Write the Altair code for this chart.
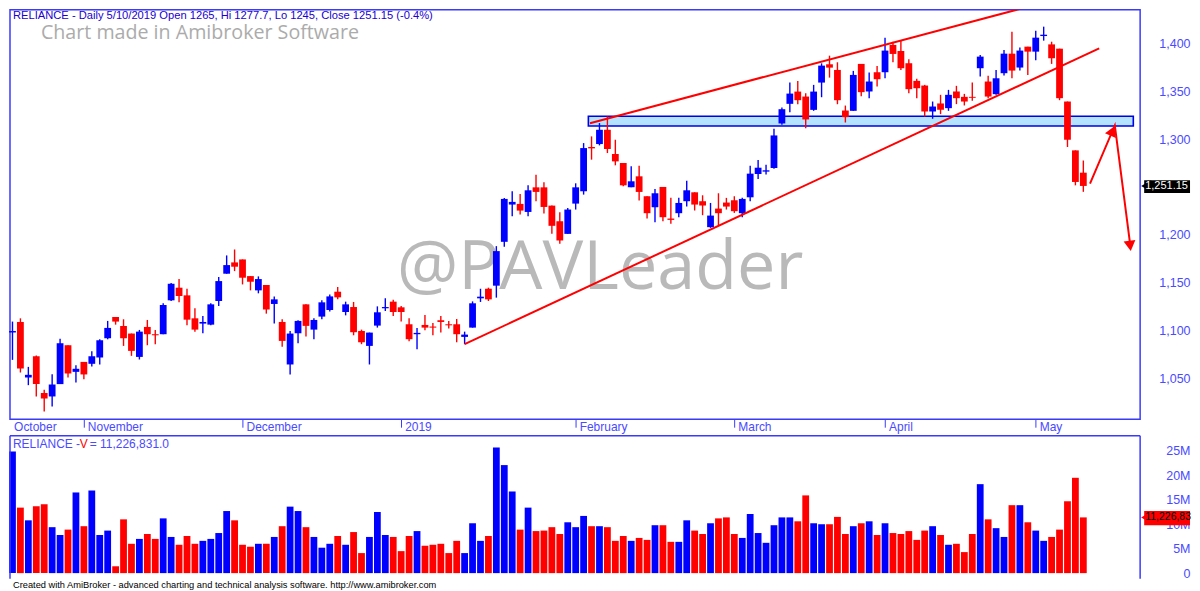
import altair as alt
import pandas as pd

open_ = [
    1098, 1109.1, 1051.1, 1073.3, 1034.8, 1031.3, 1044.2, 1084.8, 1057, 1067.4,
    1065.4, 1072, 1092.1, 1114.3, 1104.9, 1097, 1072.6, 1103.9, 1096.3, 1096.3,
    1131.7, 1144.9, 1136.9, 1112.9, 1107.4, 1106.3, 1131, 1159.5, 1171.3, 1174.4,
    1157, 1142.1, 1147.6, 1127.9, 1109.1, 1064.7, 1097.3, 1127.5, 1101.1, 1114.7,
    1121.6, 1140.7, 1119.5, 1124.7, 1099.7, 1084.1, 1105.3, 1123.4, 1130.3, 1124.4,
    1106.7, 1096.3, 1106, 1104.3, 1110.9, 1106.7, 1106.7, 1093.5, 1103.2, 1133.8,
    1143.8, 1147, 1192.8, 1231.7, 1232.4, 1224, 1249.7, 1249.7, 1230.6, 1214.3,
    1201.1, 1232.7, 1245.6, 1291.8, 1294.9, 1309.8, 1284.5, 1275.1, 1249.8, 1261.2,
    1240.4, 1228.9, 1250.1, 1217.1, 1222.7, 1235.2, 1244.5, 1235.2, 1208.1, 1227.5,
    1233.8, 1236.2, 1222.7, 1239.3, 1263.6, 1266.1, 1269.9, 1316.4, 1336.9, 1349.7,
    1344.5, 1330.6, 1359.1, 1378.2, 1372.3, 1329.9, 1329.6, 1378.6, 1349.8, 1369.9,
    1369.9, 1398.4, 1392.1, 1379.3, 1360.9, 1356, 1328.9, 1337.3, 1332.4, 1349.8,
    1344.2, 1344.2, 1374.1, 1360.2, 1347, 1368.9, 1389.3, 1374.8, 1396.6, 1391.4,
    1407.7, 1399, 1394.5, 1339.3, 1288.3, 1265,
]
high = [
    1109.5, 1112.9, 1062.2, 1074, 1038.3, 1054.6, 1091.7, 1084.8, 1064, 1067.4,
    1078.6, 1091, 1110.2, 1114.3, 1111.9, 1097, 1100.8, 1111.2, 1100.8, 1128.6,
    1149.7, 1153.9, 1143.8, 1123.4, 1115.4, 1128.6, 1156, 1178.6, 1184.8, 1174.4,
    1157, 1156.7, 1147.6, 1135.8, 1111.9, 1099.7, 1110.8, 1127.5, 1112.9, 1131.7,
    1137.9, 1145.6, 1130.3, 1130, 1101.1, 1098, 1125.4, 1133.8, 1132.4, 1125.8,
    1112.9, 1102.9, 1116.4, 1108.1, 1115.4, 1110.2, 1112.2, 1099, 1130.6, 1143.8,
    1144.9, 1188.3, 1238.6, 1245.6, 1242.8, 1251.8, 1262.9, 1254.9, 1230.6, 1223.7,
    1228.2, 1253.9, 1295.9, 1302.9, 1316.8, 1323.7, 1299.4, 1275.1, 1271.6, 1272.3,
    1240.4, 1248, 1250.1, 1238.7, 1238.7, 1256.7, 1244.5, 1241.4, 1233.4, 1243.5,
    1238.7, 1240.4, 1238.7, 1272.3, 1278.2, 1273.4, 1310.9, 1333.1, 1359.1, 1360.8,
    1348, 1356.7, 1379.2, 1387.2, 1380.3, 1335.1, 1371.3, 1378.6, 1369.5, 1376.5,
    1406, 1401.8, 1403.6, 1383.4, 1363, 1356.7, 1339.3, 1346.3, 1351.5, 1355.7,
    1347.3, 1359.1, 1387.9, 1366.1, 1372.3, 1393.2, 1412.2, 1395.6, 1396.6, 1413.3,
    1417.5, 1401.8, 1394.5, 1339.3, 1288.3, 1277.7,
]
low = [
    1069.5, 1056.3, 1043.1, 1031.3, 1015.7, 1020.9, 1044.2, 1051.1, 1045.9, 1049.4,
    1062.6, 1064.7, 1091, 1106.3, 1084.1, 1073.7, 1069.9, 1084.8, 1085.8, 1096.3,
    1131, 1129.6, 1105.6, 1099, 1097.3, 1105.6, 1125.8, 1159.5, 1162.2, 1148.3,
    1142.1, 1139, 1117.8, 1107.4, 1083.1, 1054.3, 1086.9, 1093.8, 1091, 1111.9,
    1119.9, 1132.7, 1116, 1095.2, 1085.9, 1064.7, 1103.2, 1120.6, 1115.4, 1109.5,
    1089, 1080.6, 1100.4, 1095.2, 1098, 1102.2, 1087.9, 1085.9, 1103.2, 1130,
    1131, 1134.5, 1187.6, 1219.5, 1221.3, 1219.5, 1235.2, 1222.3, 1201.1, 1190.7,
    1201.1, 1226.5, 1242.1, 1278.6, 1293.5, 1285.5, 1272.7, 1250.8, 1249.8, 1235.9,
    1217.1, 1213.3, 1214.3, 1211.6, 1218.5, 1229.6, 1225.5, 1220.6, 1207.4, 1210.2,
    1226.5, 1223, 1218.5, 1235.2, 1258.4, 1263, 1269.2, 1315, 1328.2, 1336.5,
    1311.5, 1329.6, 1343.8, 1364.3, 1336.5, 1317.4, 1329.6, 1344.9, 1342.8, 1355,
    1363.6, 1380.3, 1372.3, 1348, 1342.8, 1323.7, 1321.3, 1326.1, 1329.6, 1336.6,
    1335.2, 1340, 1365.4, 1342.8, 1346.3, 1366.4, 1363.6, 1371.6, 1367.1, 1382.4,
    1402.9, 1378.6, 1340.7, 1291.8, 1251.8, 1245,
]
close = [
    1099.7, 1060.5, 1053.9, 1044.2, 1029.3, 1043.8, 1086.9, 1055.3, 1060.2, 1054.3,
    1073.3, 1090, 1102.9, 1109.5, 1092.1, 1078.9, 1099, 1096.3, 1095.2, 1126.8,
    1149, 1136.2, 1111.5, 1101.1, 1109.1, 1127.5, 1151.8, 1168.5, 1166.8, 1155.3,
    1151.1, 1153.9, 1122, 1132.7, 1089.3, 1097, 1110.2, 1105, 1111.2, 1129.6,
    1135.8, 1134.8, 1127.5, 1098.4, 1087.9, 1098, 1119.2, 1124.7, 1119.5, 1119.5,
    1091.1, 1097.7, 1103.2, 1103.2, 1109.1, 1105.6, 1096.3, 1095.9, 1128.6, 1135.5,
    1132.7, 1183.1, 1237.6, 1234.5, 1225.4, 1246.6, 1244.9, 1229.2, 1209.5, 1194.2,
    1226.5, 1249.7, 1290.7, 1290.4, 1309.8, 1289.7, 1276.8, 1251.8, 1256, 1244.9,
    1222.7, 1243.5, 1218.5, 1215.7, 1233.4, 1246.6, 1231.7, 1230.7, 1220.2, 1222.7,
    1229.6, 1224.8, 1237.6, 1264, 1270.2, 1267.5, 1303.9, 1331.3, 1347.6, 1340.7,
    1320.6, 1349.7, 1376.8, 1374.7, 1340.7, 1323, 1367.1, 1349.1, 1360.2, 1362.6,
    1392.5, 1389, 1374.1, 1352.2, 1353.2, 1328.9, 1334.1, 1330.7, 1346.3, 1342.8,
    1339.3, 1343.2, 1386.2, 1344.5, 1363.6, 1389.3, 1371.6, 1392.5, 1391.4, 1406,
    1409.1, 1384.5, 1342.8, 1299.4, 1255.3, 1251.15,
]
# volume in millions
volume = [
    24.9, 13.4, 10.8, 13.7, 14.1, 9.4, 7.8, 8.9, 16.5, 9.6,
    16.9, 7.8, 8.7, 1.4, 11.0, 6.0, 7.0, 8.0, 7.0, 11.2,
    7.4, 5.8, 7.6, 6.0, 6.6, 7.0, 8.2, 12.7, 10.8, 5.8,
    5.4, 6.0, 6.0, 7.4, 9.6, 13.6, 12.7, 9.4, 7.4, 5.2,
    6.0, 7.6, 5.8, 8.4, 4.1, 7.4, 12.5, 7.8, 7.4, 4.5,
    7.6, 8.6, 5.6, 5.8, 6.0, 4.1, 6.6, 4.1, 10.2, 6.6,
    7.6, 25.7, 22.1, 16.7, 8.9, 13.4, 8.6, 8.7, 9.4, 8.0,
    10.4, 9.4, 11.7, 9.6, 9.6, 9.4, 6.6, 7.6, 6.6, 7.2,
    6.8, 9.8, 9.8, 6.4, 6.4, 10.8, 8.7, 8.0, 10.2, 11.2,
    11.4, 8.0, 7.2, 12.1, 8.2, 6.2, 9.8, 11.4, 11.4, 10.6,
    15.9, 10.2, 10.0, 10.0, 11.5, 8.0, 9.6, 10.2, 10.6, 7.8,
    10.2, 8.2, 8.0, 8.6, 6.8, 8.7, 9.6, 7.8, 5.8, 6.0,
    4.3, 8.0, 18.2, 11.0, 9.2, 7.4, 13.9, 13.9, 10.4, 8.7,
    6.6, 7.4, 8.9, 14.7, 19.5, 11.4,
]

month_names = ["October", "November", "December", "2019", "February", "March", "April", "May"]
month_pos = [-0.3, 9, 29, 49, 71, 91, 110, 129]
price_ticks = [1050, 1100, 1150, 1200, 1300, 1350, 1400]
volume_ticks = [0, 5, 10, 15, 20, 25]

# drawn studies, in bar number and price
support_idx = [57.0, 137.0]
support_price = [1085.9, 1394.9]
resist_idx = [72.8, 129.1]
resist_price = [1316.7, 1440.7]
zone_idx = [72.6, 141.3]
zone_price = [1324.0, 1313.8]
arrow_idx = [135.84, 138.97, 140.95]
arrow_price = [1253.6, 1314.3, 1187.0]
head_idx = [138.67, 140.9]
head_price = [1308.6, 1188.6]
head_angle = [23, 173]

BLUE = "#0000ff"
RED = "#ff0000"
FRAME = "#3a3aff"
AXIS_TEXT = "#4a4aff"
FONT = "Liberation Sans"

W = 1133
H_PRICE = 410.5
H_VOL = 143.3

bars = pd.DataFrame({
    "idx": range(len(close)), "open": open_, "high": high, "low": low,
    "close": close, "volume": volume,
})
bars["side"] = ["up" if c >= o else "down" for o, c in zip(open_, close)]

# bars would otherwise pad a continuous x scale by their own width
x_scale = alt.Scale(domain=[-0.314, 142.16], nice=False, zero=False, padding=0)
price_scale = alt.Scale(domain=[1007.56, 1435.17], nice=False, zero=False)
vol_scale = alt.Scale(domain=[-1.16, 28.08], nice=False, zero=False)
side_color = alt.Color("side:N", scale=alt.Scale(domain=["up", "down"], range=[BLUE, RED]), legend=None)

price_x = alt.X("idx:Q", scale=x_scale, title=None, axis=alt.Axis(
    values=month_pos[1:], labels=False, domain=False, grid=False,
    tickSize=8, tickColor=FRAME, tickWidth=1, title=None))
no_x = alt.X("idx:Q", scale=x_scale, axis=None)


def price_y(field):
    return alt.Y(field, scale=price_scale, title=None, axis=alt.Axis(
        values=price_ticks, format=",d", orient="right", domain=False, grid=False,
        ticks=False, labelColor=AXIS_TEXT, labelFont=FONT, labelFontSize=12.5,
        labelAlign="right", labelPadding=50, labelBound=False, title=None))


def label(text, x, y, color, size, font=FONT, align="left"):
    return alt.Chart(pd.DataFrame({"t": [text]})).mark_text(
        align=align, baseline="middle", color=color, fontSize=size, font=font
    ).encode(x=alt.value(x), y=alt.value(y), text="t:N")


def pline(idx, price, width):
    df = pd.DataFrame({"idx": idx, "price": price, "n": range(len(idx))})
    return alt.Chart(df).mark_line(color=RED, strokeWidth=width, clip=True).encode(
        x=price_x, y=price_y("price:Q"), order="n:Q")


zone = alt.Chart(pd.DataFrame({
    "idx": [zone_idx[0]], "idx2": [zone_idx[1]], "price": [zone_price[0]], "price2": [zone_price[1]],
})).mark_rect(fill="#b3e3ff", stroke="#0000e6", strokeWidth=1.6).encode(
    x=price_x, x2="idx2:Q", y=price_y("price:Q"), y2="price2:Q")

wicks = alt.Chart(bars).mark_rule(strokeWidth=1.4).encode(
    x=price_x, y=price_y("high:Q"), y2="low:Q", color=side_color)
bodies = alt.Chart(bars).mark_bar(size=6.8).encode(
    x=price_x, y=price_y("open:Q"), y2="close:Q", color=side_color)

heads = alt.Chart(pd.DataFrame({"idx": head_idx, "price": head_price, "angle": head_angle})).mark_point(
    shape="triangle-up", filled=True, size=140, color=RED, opacity=1
).encode(x=price_x, y=price_y("price:Q"), angle=alt.Angle("angle:Q", scale=None))

months = alt.Chart(pd.DataFrame({"idx": month_pos, "name": month_names})).mark_text(
    align="left", baseline="middle", dx=4, color=AXIS_TEXT, fontSize=12, font=FONT
).encode(x=price_x, y=alt.value(418), text="name:N")

tag_rect = alt.Chart(pd.DataFrame({"idx": [142.67], "idx2": [148.45], "price": [1257.0], "price2": [1243.8]})).mark_rect(
    color="#000000").encode(x=price_x, x2="idx2:Q", y=price_y("price:Q"), y2="price2:Q")
tag_tip = alt.Chart(pd.DataFrame({"idx": [142.92], "price": [close[-1]]})).mark_point(
    shape="triangle-left", filled=True, size=135, color="#000000", opacity=1
).encode(x=price_x, y=price_y("price:Q"))
tag_text = alt.Chart(pd.DataFrame({"idx": [142.8], "price": [close[-1]], "t": ["1,251.15"]})).mark_text(
    align="left", baseline="middle", color="#ffffff", fontSize=11, font=FONT
).encode(x=price_x, y=price_y("price:Q"), text="t:N")

price_pane = alt.layer(
    label("@PAVLeader", 388, 259, "#b9b9b9", 68.5, "Open Sans"),
    label("Chart made in Amibroker Software", 31, 23, "#ababab", 19.7, "Open Sans"),
    zone,
    wicks,
    bodies,
    pline(support_idx, support_price, 2),
    pline(resist_idx, resist_price, 2),
    pline(arrow_idx, arrow_price, 2),
    heads,
    months,
    tag_rect,
    tag_tip,
    tag_text,
    label("RELIANCE - Daily 5/10/2019 Open 1265, Hi 1277.7, Lo 1245, Close 1251.15 (-0.4%)",
          3, 6, "#2000d0", 11.2),
).properties(width=W, height=H_PRICE, view=alt.ViewBackground(stroke=FRAME, strokeWidth=1.5))

vol_y = alt.Y("volume:Q", scale=vol_scale, title=None, axis=alt.Axis(
    values=volume_ticks, orient="right", domain=False, grid=False, ticks=False,
    labelExpr="datum.value === 0 ? '0' : datum.value + 'M'",
    labelColor=AXIS_TEXT, labelFont=FONT, labelFontSize=12.5,
    labelAlign="right", labelPadding=50, labelBound=False, title=None))

blank = pd.DataFrame({"a": [0]})
vol_bars = alt.Chart(bars).mark_bar(size=6.8).encode(x=no_x, y=vol_y, color=side_color)
frame_top = alt.Chart(blank).mark_rule(color=FRAME, strokeWidth=1.5).encode(
    x=alt.value(0), x2=alt.value(W), y=alt.value(0))
frame_left = alt.Chart(blank).mark_rule(color=FRAME, strokeWidth=1.5).encode(
    x=alt.value(0), y=alt.value(0), y2=alt.value(H_VOL))
frame_right = alt.Chart(blank).mark_rule(color=FRAME, strokeWidth=1.5).encode(
    x=alt.value(W), y=alt.value(0), y2=alt.value(H_VOL))

vol_rect = alt.Chart(pd.DataFrame({"idx": [142.67], "idx2": [148.45], "volume": [12.7], "v2": [9.8]})).mark_rect(
    color=RED).encode(x=no_x, x2="idx2:Q", y=vol_y, y2="v2:Q")
vol_tip = alt.Chart(pd.DataFrame({"idx": [142.92], "volume": [volume[-1]]})).mark_point(
    shape="triangle-left", filled=True, size=135, color=RED, opacity=1
).encode(x=no_x, y=vol_y)
vol_text = alt.Chart(pd.DataFrame({"idx": [142.8], "volume": [volume[-1]], "t": ["11,226,83"]})).mark_text(
    align="left", baseline="middle", color="#000000", fontSize=10.5, font=FONT
).encode(x=no_x, y=vol_y, text="t:N")

vol_pane = alt.layer(
    vol_bars,
    frame_top, frame_left, frame_right,
    vol_rect, vol_tip, vol_text,
    label("RELIANCE - ", 3, 8.5, AXIS_TEXT, 12),
    label("V", 70, 8.5, RED, 12),
    label("= 11,226,831.0", 80, 8.5, AXIS_TEXT, 12),
    label("Created with AmiBroker - advanced charting and technical analysis software. http://www.amibroker.com",
          3, 149.5, "#000000", 9.3),
).properties(width=W, height=H_VOL, view=alt.ViewBackground(stroke=None))

chart = alt.vconcat(price_pane, vol_pane, spacing=16.2, bounds="flush").resolve_scale(
    x="independent", y="independent", color="shared"
).properties(padding=0, background="#ffffff")

chart.save("out.html", embed_options={"renderer": "svg", "actions": False})
